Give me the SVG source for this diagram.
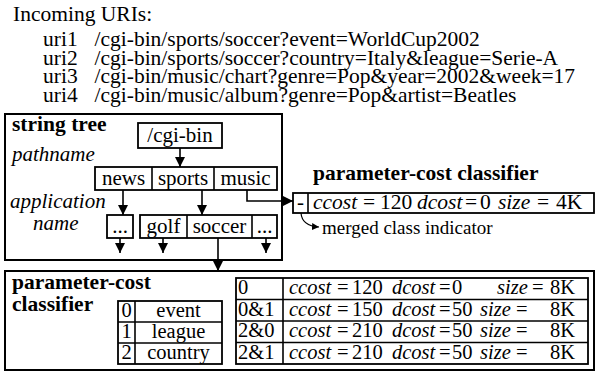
<svg xmlns="http://www.w3.org/2000/svg" width="597" height="374" viewBox="0 0 597 374">
<defs>
<style>
text{font-family:"Liberation Serif","Times New Roman",serif;font-size:21px;fill:#000}
.u{font-size:21.5px}
.t{font-size:20.5px}
.b{font-weight:bold;font-size:21.5px}
.i{font-style:italic}
.s{font-size:19px}
.c{text-anchor:middle}
.box{fill:#fff;stroke:#000;stroke-width:1.8}
.frame{fill:none;stroke:#000;stroke-width:2}
.ln{fill:none;stroke:#000;stroke-width:1.6}
.arr{fill:none;stroke:#000;stroke-width:1.6;marker-end:url(#ah)}
</style>
<marker id="ah" viewBox="0 0 10 10" refX="10" refY="5" markerWidth="10" markerHeight="10" markerUnits="userSpaceOnUse" orient="auto">
<path d="M0,0 L10,5 L0,10 z" fill="#000"/>
</marker>
<marker id="ahs" viewBox="0 0 10 10" refX="10" refY="5" markerWidth="7" markerHeight="7" markerUnits="userSpaceOnUse" orient="auto">
<path d="M0,0 L10,5 L0,10 z" fill="#000"/>
</marker>
</defs>
<rect width="597" height="374" fill="#fff"/>

<g id="uris">
<text class="u" x="13" y="21">Incoming URIs:</text>
<text class="u" x="43" y="46">uri1<tspan x="94.5">/cgi-bin/sports/soccer?event=WorldCup2002</tspan></text>
<text class="u" x="43" y="65">uri2<tspan x="94.5">/cgi-bin/sports/soccer?country=Italy&amp;league=Serie-A</tspan></text>
<text class="u" x="43" y="83">uri3<tspan x="94.5">/cgi-bin/music/chart?genre=Pop&amp;year=2002&amp;week=17</tspan></text>
<text class="u" x="43" y="102">uri4<tspan x="94.5">/cgi-bin/music/album?genre=Pop&amp;artist=Beatles</tspan></text>
</g>

<g id="string-tree">
<rect class="frame" x="5" y="114" width="277" height="146"/>
<text class="b" x="12" y="131">string tree</text>
<text class="i" x="12" y="161">pathname</text>
<text class="i" x="10" y="208">application</text>
<text class="i" x="33" y="230">name</text>
</g>

<g id="cgi-bin">
<rect class="box" x="138" y="123" width="84" height="25"/>
<text class="c" x="180" y="142">/cgi-bin</text>
</g>

<g id="pathname-row">
<rect class="box" x="95" y="167" width="182" height="23"/>
<line class="ln" x1="152" y1="167" x2="152" y2="190"/>
<line class="ln" x1="214" y1="167" x2="214" y2="190"/>
<text class="c" x="123.5" y="185">news</text>
<text class="c" x="183" y="185">sports</text>
<text class="c" x="245.5" y="185">music</text>
</g>

<g id="app-left">
<rect class="box" x="107" y="215" width="26" height="23"/>
<text class="c" x="120" y="233">...</text>
</g>

<g id="app-right">
<rect class="box" x="140" y="215" width="137" height="23"/>
<line class="ln" x1="187" y1="215" x2="187" y2="238"/>
<line class="ln" x1="252" y1="215" x2="252" y2="238"/>
<text class="c" x="163.5" y="233">golf</text>
<text class="c" x="219.5" y="233">soccer</text>
<text class="c" x="264.5" y="233">...</text>
</g>

<g id="merged-classifier">
<text class="b" x="313" y="180">parameter-cost classifier</text>
<rect class="box" x="293" y="193" width="301" height="20"/>
<line class="ln" x1="308" y1="193" x2="308" y2="213"/>
<text class="c" x="300.5" y="209">-</text>
<text class="u" x="313" y="209"><tspan class="i">ccost</tspan><tspan x="363">=</tspan><tspan x="380">120</tspan><tspan x="417" class="i">dcost</tspan><tspan x="465">=</tspan><tspan x="480">0</tspan><tspan x="498" class="i">size</tspan><tspan x="537">=</tspan><tspan x="556">4K</tspan></text>
<text class="s" x="322" y="234">merged class indicator</text>
</g>

<g id="param-classifier">
<rect class="frame" x="5" y="271" width="589" height="99"/>
<text class="b" x="12" y="289">parameter-cost</text>
<text class="b" x="12" y="311">classifier</text>
</g>

<g id="param-table">
<rect class="box" x="118" y="301" width="104" height="63"/>
<line class="ln" x1="135" y1="301" x2="135" y2="364"/>
<line class="ln" x1="118" y1="322" x2="222" y2="322"/>
<line class="ln" x1="118" y1="343" x2="222" y2="343"/>
<text class="c t" x="126.5" y="317">0</text><text class="c t" x="178.5" y="317">event</text>
<text class="c t" x="126.5" y="338">1</text><text class="c t" x="178.5" y="338">league</text>
<text class="c t" x="126.5" y="359">2</text><text class="c t" x="178.5" y="359">country</text>
</g>

<g id="class-table">
<rect class="box" x="236" y="278" width="352" height="86"/>
<line class="ln" x1="283" y1="278" x2="283" y2="364"/>
<line class="ln" x1="236" y1="299.5" x2="588" y2="299.5"/>
<line class="ln" x1="236" y1="321" x2="588" y2="321"/>
<line class="ln" x1="236" y1="342.5" x2="588" y2="342.5"/>
<text class="t" x="238" y="294">0<tspan x="289" class="i">ccost</tspan><tspan x="337">=</tspan><tspan x="352">120</tspan><tspan x="392" class="i">dcost</tspan><tspan x="439">=</tspan><tspan x="452">0</tspan><tspan x="497" class="i">size</tspan><tspan x="532">=</tspan><tspan x="550">8K</tspan></text>
<text class="t" x="238" y="315.5">0&amp;1<tspan x="289" class="i">ccost</tspan><tspan x="337">=</tspan><tspan x="352">150</tspan><tspan x="392" class="i">dcost</tspan><tspan x="439">=</tspan><tspan x="452">50</tspan><tspan x="480" class="i">size</tspan><tspan x="516">=</tspan><tspan x="550">8K</tspan></text>
<text class="t" x="238" y="337">2&amp;0<tspan x="289" class="i">ccost</tspan><tspan x="337">=</tspan><tspan x="352">210</tspan><tspan x="392" class="i">dcost</tspan><tspan x="439">=</tspan><tspan x="452">50</tspan><tspan x="480" class="i">size</tspan><tspan x="516">=</tspan><tspan x="550">8K</tspan></text>
<text class="t" x="238" y="358.5">2&amp;1<tspan x="289" class="i">ccost</tspan><tspan x="337">=</tspan><tspan x="352">210</tspan><tspan x="392" class="i">dcost</tspan><tspan x="439">=</tspan><tspan x="452">50</tspan><tspan x="480" class="i">size</tspan><tspan x="516">=</tspan><tspan x="550">8K</tspan></text>
</g>

<g id="connectors">
<line class="arr" x1="180" y1="148" x2="180" y2="167"/>
<line class="arr" x1="123" y1="190" x2="123" y2="215"/>
<line class="arr" x1="202" y1="190" x2="202" y2="215"/>
<polyline class="arr" points="247,190 247,201 293,201"/>
<line class="arr" x1="120" y1="238" x2="120" y2="253"/>
<line class="arr" x1="163" y1="238" x2="163" y2="253"/>
<line class="arr" x1="266" y1="238" x2="266" y2="253"/>
<line class="arr" x1="218" y1="238" x2="218" y2="271"/>
<path d="M301,213 Q302,226 319,227" fill="none" stroke="#000" stroke-width="1.2" marker-end="url(#ahs)"/>
</g>
</svg>
